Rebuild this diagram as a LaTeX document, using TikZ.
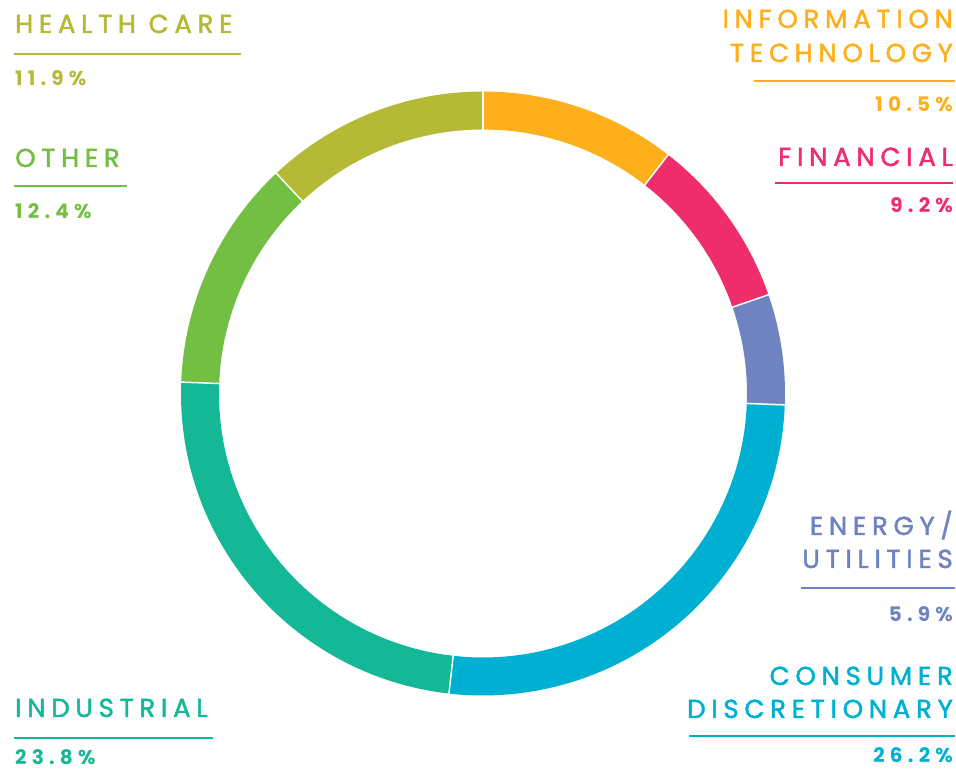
\documentclass[tikz,border=0pt]{standalone}
\usepackage{fontspec}
\setmainfont{Poppins}
\newfontfamily\catfont[LetterSpace=22,FakeBold=1.8]{Poppins}
\newfontfamily\pctfont[LetterSpace=26]{Poppins}
\usetikzlibrary{positioning}

\definecolor{itcol}{HTML}{FDB01B}
\definecolor{fincol}{HTML}{EE2D6A}
\definecolor{encol}{HTML}{6F83C0}
\definecolor{concol}{HTML}{00B0D2}
\definecolor{indcol}{HTML}{15B896}
\definecolor{othcol}{HTML}{72BF44}
\definecolor{hccol}{HTML}{B5BA36}

\tikzset{
  cat/.style={inner sep=0pt,font=\catfont\fontsize{26}{26}\selectfont},
  pct/.style={inner sep=0pt,font=\pctfont\bfseries\fontsize{20}{20}\selectfont},
  rule/.style={line width=1.3pt}
}

\begin{document}
\begin{tikzpicture}[x=1pt,y=1pt]
\useasboundingbox (0,0) rectangle (956,770);

% ring
\begin{scope}[shift={(483,376.5)}]
\foreach \a/\b/\c in {90/52.2/itcol,52.2/19.08/fincol,19.08/-2.16/encol,
  -2.16/-96.48/concol,-96.48/-182.16/indcol,-182.16/-226.8/othcol,-226.8/-270/hccol}
  \fill[\c] (\a:302pt) arc[start angle=\a,end angle=\b,radius=302pt]
    -- (\b:264pt) arc[start angle=\b,end angle=\a,radius=264pt] -- cycle;
\foreach \a in {90,52.2,19.08,-2.16,-96.48,-182.16,-226.8}
  \draw[white,line width=1.5pt] (\a:262pt) -- (\a:304pt);
\end{scope}

% left labels
\node(hc)[cat,hccol,anchor=base west] at (15,737) {HEALTH CARE};
\draw[rule,hccol] (14,716) -- (241,716);
\node(hcp)[pct,hccol,anchor=base west] at (15,684) {11.9\%};

\node(oth)[cat,othcol,anchor=base west] at (15,603) {OTHER};
\draw[rule,othcol] (14,584) -- (127,584);
\node(othp)[pct,othcol,anchor=base west] at (15,551) {12.4\%};

\node(ind)[cat,indcol,anchor=base west] at (15,53) {INDUSTRIAL};
\draw[rule,indcol] (14,32) -- (213,32);
\node(indp)[pct,indcol,anchor=base west] at (15,5) {23.8\%};

% right labels
\node(it1)[cat,itcol,anchor=base east] at (953,742) {INFORMATION};
\node(it2)[cat,itcol,anchor=base east] at ([yshift=-34pt]it1.base east) {TECHNOLOGY};
\draw[rule,itcol] (754,689) -- (955,689);
\node(itp)[pct,itcol,anchor=base east] at (953,658) {10.5\%};

\node(fin)[cat,fincol,anchor=base east] at (953,604) {FINANCIAL};
\draw[rule,fincol] (775,587) -- (953,587);
\node(finp)[pct,fincol,anchor=base east] at (953,557) {9.2\%};

\node(en1)[cat,encol,anchor=base east] at (953,235) {ENERGY/};
\node(en2)[cat,encol,anchor=base east] at ([yshift=-33pt]en1.base east) {UTILITIES};
\draw[rule,encol] (801,182) -- (955,182);
\node(enp)[pct,encol,anchor=base east] at (953,148) {5.9\%};

\node(con1)[cat,concol,anchor=base east] at (953,85) {CONSUMER};
\node(con2)[cat,concol,anchor=base east] at ([yshift=-33pt]con1.base east) {DISCRETIONARY};
\draw[rule,concol] (689,34) -- (955,34);
\node(conp)[pct,concol,anchor=base east] at (953,7) {26.2\%};
\end{tikzpicture}
\end{document}
